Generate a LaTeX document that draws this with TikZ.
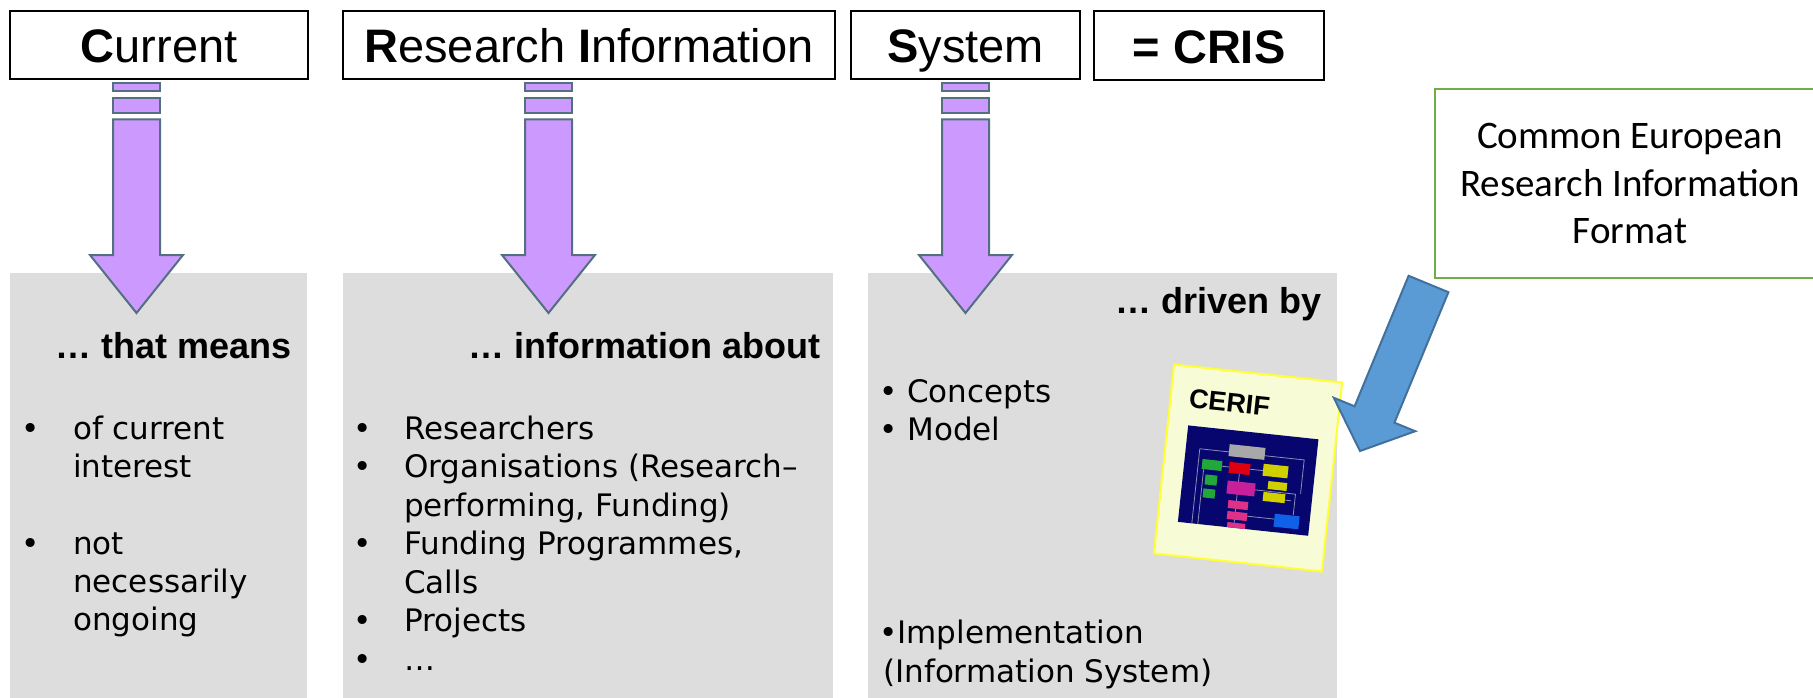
\documentclass[tikz,border=0pt]{standalone}
\usepackage{fontspec}
\setmainfont{Liberation Sans}
\newfontfamily\bodyfnt{DejaVu Sans}
\newfontfamily\calfnt{Carlito}
\definecolor{graybg}{HTML}{DDDDDD}
\definecolor{purpfill}{HTML}{CC99FF}
\definecolor{purpline}{HTML}{52707F}
\definecolor{grn}{HTML}{70AD47}
\definecolor{bluefill}{HTML}{5B9BD5}
\definecolor{blueline}{HTML}{41719C}
\definecolor{cardfill}{HTML}{F8FCD6}
\definecolor{cardline}{HTML}{FFFF33}
\definecolor{navy}{HTML}{06066E}
\definecolor{cgray}{HTML}{A8A8A8}
\definecolor{cgreen}{HTML}{22A83A}
\definecolor{cred}{HTML}{DD0010}
\definecolor{cmag}{HTML}{C8209A}
\definecolor{cyel}{HTML}{D0D000}
\definecolor{cpink}{HTML}{E03088}
\definecolor{cblue}{HTML}{1060E8}
\definecolor{clin}{HTML}{8C8CB4}
\newcommand{\mkpurple}[1]{%
  \draw[purp] ({#1-23.5},83.3) rectangle ({#1+23.5},91);
  \draw[purp] ({#1-23.5},98.3) rectangle ({#1+23.5},113.3);
  \draw[purp] ({#1-23.5},119.3) -- ({#1+23.5},119.3) -- ({#1+23.5},255) -- ({#1+46.5},255) -- (#1,313) -- ({#1-46.5},255) -- ({#1-23.5},255) -- cycle;}
\begin{document}
\begin{tikzpicture}[x=1pt,y=-1pt,
  hdr/.style={draw=black, line width=2pt, fill=white, minimum height=68, inner sep=0, text height=36pt, text depth=0pt, font=\fontsize{47}{56}\selectfont},
  graybox/.style={fill=graybg, draw=none, inner sep=0, minimum height=425},
  purp/.style={fill=purpfill, draw=purpline, line width=2pt, line join=miter},
  bodytxt/.style={font=\bodyfnt\fontsize{31}{38}\selectfont, inner sep=0, anchor=base west, text=black},
  bul/.style={font=\bodyfnt\fontsize{31}{38}\selectfont, inner sep=0, anchor=base, text=black},
  hd/.style={font=\bfseries\fontsize{36}{43}\selectfont, inner sep=0, anchor=base east}
]
\useasboundingbox (0,0) rectangle (1813,698);
\fill[white] (0,0) rectangle (1813,698);

% header boxes
\node[hdr, minimum width=298] (hcur) at (159,45) {\textbf{C}urrent};
\node[hdr, minimum width=492] (hres) at (589,45) {\textbf{R}esearch \textbf{I}nformation};
\node[hdr, minimum width=229] (hsys) at (965.5,45) {\textbf{S}ystem};
\node[hdr, minimum width=230, minimum height=69] (hcris) at (1209,45.5) {\textbf{= CRIS}};

% gray boxes
\node[graybox, minimum width=297] (g1) at (158.5,485.5) {};
\node[graybox, minimum width=490] (g2) at (588,485.5) {};
\node[graybox, minimum width=469] (g3) at (1102.5,485.5) {};

% purple arrows
\mkpurple{136.5}
\mkpurple{548.5}
\mkpurple{965.5}

% box headings
\node[hd] (t1) at (292,358) {… that means};
\node[hd] (t2) at (821,358) {… information about};
\node[hd] (t3) at (1322,313) {… driven by};

% box 1
\node[bul] (b1a) at (31,439) {•};
\node[bodytxt] (l1a) at (73,439) {of current};
\node[bodytxt] (l1b) at (73,477) {interest};
\node[bul] (b1b) at (31,554) {•};
\node[bodytxt] (l1c) at (73,554) {not};
\node[bodytxt] (l1d) at (73,592) {necessarily};
\node[bodytxt] (l1e) at (73,630) {ongoing};

% box 2
\node[bul] (b2a) at (362.5,439) {•};
\node[bodytxt] (l2a) at (404,439) {Researchers};
\node[bul] (b2b) at (362.5,477.5) {•};
\node[bodytxt] (l2b) at (404,477.5) {Organisations (Research–};
\node[bodytxt] (l2c) at (404,516) {performing, Funding)};
\node[bul] (b2c) at (362.5,554.5) {•};
\node[bodytxt] (l2d) at (404,554.5) {Funding Programmes,};
\node[bodytxt] (l2e) at (404,593) {Calls};
\node[bul] (b2d) at (362.5,631.5) {•};
\node[bodytxt] (l2f) at (404,631.5) {Projects};
\node[bul] (b2e) at (362.5,670) {•};
\node[bodytxt] (l2g) at (404,670) {…};

% box 3
\node[bodytxt] (l3a) at (879,402) {• Concepts};
\node[bodytxt] (l3b) at (879,440) {• Model};
\node[bodytxt] (l3c) at (879,643) {•Implementation};
\node[bodytxt] (l3d) at (883,682) {(Information System)};

% CERIF card
\node[fill=cardfill, draw=cardline, line width=2pt, rotate=-6.1, minimum width=169, minimum height=190, inner sep=0] (card) at (1248,468) {};
\begin{scope}[shift={(1248,468)}, rotate=-6.1]
  \node[anchor=west, inner sep=0, transform shape, font=\bfseries\fontsize{27}{30}\selectfont] (cerift) at (-66,-63) {CERIF};
  \fill[navy] (-64,-36) rectangle (67,61);
  \draw[clin, line width=0.8pt] (-50,-14) -- (55,-14) -- (55,20);
  \draw[clin, line width=0.8pt] (-50,-14) -- (-50,61);
  \draw[clin, line width=0.8pt] (-44,6) -- (-44,61);
  \draw[clin, line width=0.8pt] (-26,1) -- (15,1);
  \draw[clin, line width=0.8pt] (-8,7) -- (-8,61);
  \draw[clin, line width=0.8pt] (4,48) -- (31.5,48);
  \draw[clin, line width=0.8pt] (9,21) -- (50,21) -- (50,42);
  \draw[clin, line width=0.8pt] (40,28) -- (46,28);
  \fill[cgray] (-20.7,-21.8) rectangle (15.3,-9.8);
  \fill[cgreen] (-46.1,-4.15) rectangle (-26.1,5.85);
  \fill[cgreen] (-41.5,10.9) rectangle (-29.5,20.9);
  \fill[cgreen] (-42.1,25) rectangle (-30.1,34);
  \fill[cred] (-18.9,-4.1) rectangle (2.1,6.9);
  \fill[cmag] (-18.8,14.6) rectangle (9.2,27.6);
  \fill[cyel] (15.2,-5.9) rectangle (40.2,6.1);
  \fill[cyel] (21.7,10.8) rectangle (40.7,18.8);
  \fill[cyel] (18,22.1) rectangle (40,31.1);
  \fill[cpink] (-16,33.9) rectangle (4,41.9);
  \fill[cpink] (-15.8,44.9) rectangle (4.2,52.9);
  \fill[cpink] (-14.7,55.9) rectangle (3.3,61);
  \fill[cblue] (31.5,42.6) rectangle (56.5,55.6);
\end{scope}

% green text box
\node[draw=grn, line width=2pt, fill=white, minimum width=390, minimum height=189, align=center, inner sep=0, font=\calfnt\fontsize{39}{47.5}\selectfont] (cerifbox) at (1630,183.5) {Common European\\Research Information\\Format};

% blue block arrow
\draw[fill=bluefill, draw=blueline, line width=2pt, line join=miter]
  (1408.6,275.8) -- (1448.4,292.2) -- (1394.4,422.7) -- (1415.2,431.2) -- (1360,451) -- (1333.8,397.8) -- (1354.6,406.3) -- cycle;
\end{tikzpicture}
\end{document}
